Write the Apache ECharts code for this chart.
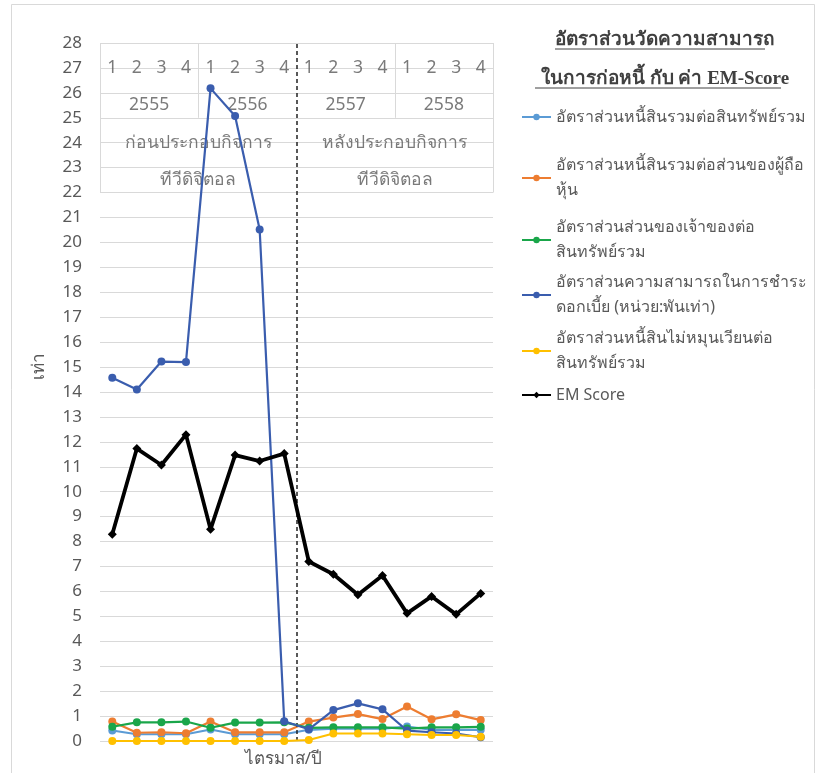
<!DOCTYPE html>
<html>
<head>
<meta charset="utf-8">
<script src="https://cdn.jsdelivr.net/npm/echarts@6/dist/echarts.min.js"></script>
<style>
  html, body { margin: 0; padding: 0; background: #ffffff; }
  #main { width: 819px; height: 773px; }
</style>
</head>
<body>
<div id="main"></div>
<script>
// Header table labels (quarter / year / period)
const quarterLabels = ['1','2','3','4','1','2','3','4','1','2','3','4','1','2','3','4'];
const yearLabels = ['2555','2556','2557','2558'];
const periodLabels = ['ก่อนประกอบกิจการ','หลังประกอบกิจการ'];
const periodSubLabels = ['ทีวีดิจิตอล','ทีวีดิจิตอล'];

// Series names
const seriesNames = [
  'อัตราส่วนหนี้สินรวมต่อสินทรัพย์รวม',
  'อัตราส่วนหนี้สินรวมต่อส่วนของผู้ถือ\nหุ้น',
  'อัตราส่วนส่วนของเจ้าของต่อ\nสินทรัพย์รวม',
  'อัตราส่วนความสามารถในการชำระ\nดอกเบี้ย (หน่วย:พันเท่า)',
  'อัตราส่วนหนี้สินไม่หมุนเวียนต่อ\nสินทรัพย์รวม',
  'EM Score'
];

// Quarterly values (2555 Q1 .. 2558 Q4)
const debtToAssets     = [0.42,0.27,0.27,0.27,0.46,0.27,0.27,0.27,0.45,0.50,0.50,0.50,0.58,0.45,0.45,0.45];
const debtToEquity     = [0.78,0.33,0.35,0.31,0.78,0.35,0.35,0.35,0.78,0.94,1.08,0.88,1.38,0.87,1.07,0.84];
const equityToAssets   = [0.57,0.75,0.75,0.78,0.53,0.74,0.74,0.75,0.53,0.55,0.55,0.55,0.50,0.55,0.55,0.57];
const interestCoverage = [14.57,14.10,15.22,15.20,26.18,25.07,20.52,0.79,0.47,1.24,1.51,1.27,0.42,0.35,0.30,0.15];
const nonCurrentDebt   = [0,0,0,0,0,0,0,0,0.04,0.30,0.30,0.30,0.27,0.24,0.24,0.17];
const emScore          = [8.29,11.73,11.07,12.29,8.49,11.47,11.23,11.53,7.20,6.69,5.87,6.64,5.12,5.80,5.08,5.92];

const FONT = '"Noto Sans", "DejaVu Sans", sans-serif';
const GRAY = '#595959';
const GRID = '#d9d9d9';

const seriesValues = [debtToAssets, debtToEquity, equityToAssets, interestCoverage, nonCurrentDebt, emScore];
const seriesColors = ['#5b9bd5', '#ed7d31', '#1aa64a', '#3a5dae', '#ffc000', '#000000'];

// Header table text placed in category units on the hidden value axis
const tableText = [];
quarterLabels.forEach((q, i) => tableText.push([i, 27, q]));
yearLabels.forEach((y, k) => tableText.push([k * 4 + 1.5, 25.5, y]));
periodLabels.forEach((p, k) => tableText.push([k * 8 + 3.5, 24, p]));
periodSubLabels.forEach((p, k) => tableText.push([k * 8 + 3.5, 22.5, p]));

function seg(x, y0, y1, style) {
  const a = { coord: [x, y0] };
  if (style) a.lineStyle = style;
  return [a, { coord: [x, y1] }];
}
const lastEdge = quarterLabels.length - 0.5;
const midEdge = quarterLabels.length / 2 - 0.5;

const lineSeries = seriesNames.map(function (name, i) {
  const isEM = i === 5;
  return {
    name: name,
    type: 'line',
    xAxisIndex: 0,
    yAxisIndex: 0,
    data: seriesValues[i],
    symbol: isEM ? 'diamond' : 'circle',
    symbolSize: isEM ? 9 : 8,
    showSymbol: true,
    color: seriesColors[i],
    lineStyle: { width: isEM ? 3.8 : 2.2, color: seriesColors[i] },
    itemStyle: { color: seriesColors[i], borderWidth: 0 },
    z: 3 + i,
    silent: true,
    animation: false
  };
});

// Legend entries, one box each so the marker lines up with the first text line
const legendTargets = [115, 165, 227, 282, 338, 393];
const LH = 25;
const legends = seriesNames.map(function (name, i) {
  const twoLine = name.indexOf('\n') >= 0;
  return {
    data: [name],
    orient: 'vertical',
    left: 521,
    top: twoLine ? legendTargets[i] - 24.5 : legendTargets[i] - 10.5,
    padding: 0,
    itemWidth: 29,
    itemHeight: 8,
    selectedMode: false,
    textStyle: {
      fontFamily: FONT,
      fontSize: 16,
      color: GRAY,
      lineHeight: LH,
      padding: twoLine ? [LH, 0, 0, 0] : 0
    }
  };
});

const option = {
  backgroundColor: '#ffffff',
  animation: false,
  textStyle: { fontFamily: FONT },
  title: {
    text: 'อัตราส่วนวัดความสามารถ\nในการก่อหนี้ กับ ค่า EM-Score',
    left: 660,
    top: 16,
    textAlign: 'center',
    textStyle: {
      fontFamily: '"Liberation Serif", "DejaVu Serif", serif',
      fontWeight: 'bold',
      fontSize: 19,
      lineHeight: 39,
      color: '#404040'
    }
  },
  legend: legends,
  grid: { left: 100, right: 326, top: 43, bottom: 32, containLabel: false, outerBoundsMode: 'none' },
  xAxis: [
    {
      type: 'category',
      data: quarterLabels,
      boundaryGap: true,
      axisLine: { show: false },
      axisTick: { show: false },
      axisLabel: { show: false },
      splitLine: { show: false },
      name: 'ไตรมาส/ปี',
      nameLocation: 'middle',
      nameGap: 10,
      nameTextStyle: { color: GRAY, fontSize: 17, fontFamily: FONT, padding: [0, 26, 0, 0] }
    },
    {
      type: 'value',
      min: -0.5,
      max: lastEdge,
      show: false
    }
  ],
  yAxis: [{
    type: 'value',
    min: 0,
    max: 28,
    interval: 1,
    axisLine: { show: false },
    axisTick: { show: false },
    axisLabel: { color: GRAY, fontSize: 17, margin: 18, fontFamily: FONT },
    splitLine: { lineStyle: { color: GRID, width: 1 } }
  }],
  graphic: [
    { type: 'rect', shape: { x: 11.5, y: 4.5, width: 803, height: 800 },
      style: { fill: 'none', stroke: GRID, lineWidth: 1 }, silent: true },
    { type: 'text', x: 39, y: 366, rotation: Math.PI / 2,
      style: { text: 'เท่า', fill: GRAY, fontSize: 17, fontFamily: FONT, align: 'center', verticalAlign: 'middle' } },
    { type: 'line', shape: { x1: 555, y1: 49, x2: 765, y2: 49 }, style: { stroke: '#404040', lineWidth: 1 } },
    { type: 'line', shape: { x1: 535, y1: 88, x2: 781, y2: 88 }, style: { stroke: '#404040', lineWidth: 1 } }
  ],
  series: [
    {
      name: 'header',
      type: 'scatter',
      xAxisIndex: 1,
      yAxisIndex: 0,
      data: tableText,
      symbolSize: 0,
      silent: true,
      z: 1,
      label: {
        show: true,
        position: 'inside',
        formatter: function (p) { return p.data[2]; },
        color: GRAY,
        fontSize: 17.5,
        fontFamily: FONT
      },
      markLine: {
        silent: true,
        symbol: 'none',
        label: { show: false },
        lineStyle: { color: GRID, width: 1, type: 'solid' },
        data: [
          seg(-0.5, 22, 28),
          seg(lastEdge, 22, 28),
          seg(3.5, 25, 28),
          seg(11.5, 25, 28),
          seg(midEdge, 0, 28, { color: '#222222', width: 1.5, type: [4, 3] })
        ]
      }
    }
  ].concat(lineSeries)
};

const myChart = echarts.init(document.getElementById('main'));
myChart.setOption(option);
</script>
</body>
</html>
